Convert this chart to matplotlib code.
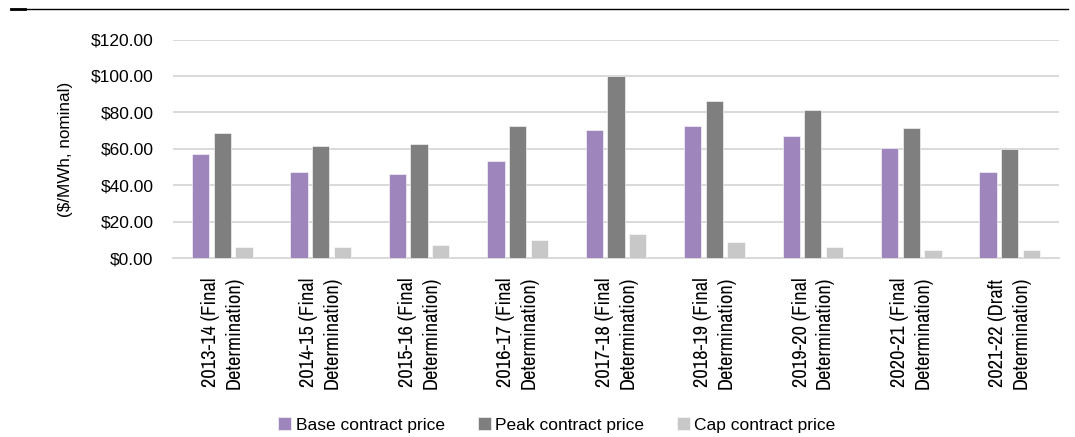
import matplotlib.pyplot as plt
import numpy as np
from matplotlib.lines import Line2D
from matplotlib.ticker import FuncFormatter

plt.rcParams['font.family'] = ['Liberation Sans', 'DejaVu Sans']
NARROW = ['Nimbus Sans Narrow', 'Archivo Narrow', 'Liberation Sans']

YEARS = ['2013-14 (Final\nDetermination)', '2014-15 (Final\nDetermination)',
         '2015-16 (Final\nDetermination)', '2016-17 (Final\nDetermination)',
         '2017-18 (Final\nDetermination)', '2018-19 (Final\nDetermination)',
         '2019-20 (Final\nDetermination)', '2020-21 (Final\nDetermination)',
         '2021-22 (Draft\nDetermination)']

# $/MWh, nominal
BASE = [57.2, 47.1, 46.0, 53.4, 70.1, 72.8, 67.3, 60.5, 47.4]
PEAK = [68.9, 61.4, 62.9, 72.3, 100.2, 86.2, 81.4, 71.2, 60.0]
CAP = [6.1, 6.0, 7.1, 9.9, 13.2, 8.8, 6.0, 4.8, 4.4]

SERIES = [
    ('Base contract price', BASE, '#9e86bc'),
    ('Peak contract price', PEAK, '#7f7f7f'),
    ('Cap contract price', CAP, '#c8c8c8'),
]

fig = plt.figure(figsize=(10.75, 4.37), dpi=100, facecolor='white')
ax = fig.add_axes([0.161, 0.409, 0.824, 0.5006])

x = np.arange(len(YEARS))
pitch = 0.22
width = 0.176
for i, (label, vals, color) in enumerate(SERIES):
    ax.bar(x + (i - 1) * pitch, vals, width=width, color=color,
           edgecolor='white', linewidth=0.4, label=label, zorder=3)

ax.set_xlim(-0.5, len(YEARS) - 0.5)
ax.set_ylim(0, 120)
ax.set_yticks(np.arange(0, 121, 20))
ax.yaxis.set_major_formatter(FuncFormatter(lambda v, _: f'${v:.2f}'))
ax.grid(axis='y', color='#d9d9d9', linewidth=1.4, zorder=0)
ax.set_axisbelow(True)

for side in ('top', 'right', 'left'):
    ax.spines[side].set_visible(False)
ax.spines['bottom'].set_color('#d9d9d9')
ax.spines['bottom'].set_linewidth(1.4)

# category labels are set in a narrow face
ax.set_xticks(x)
ax.set_xticklabels(YEARS, rotation=90, fontsize=14.75, linespacing=1.3,
                   family=NARROW)
ax.tick_params(axis='x', length=0, pad=13)
ax.tick_params(axis='y', length=0, pad=14, labelsize=12.5)

ax.set_ylabel('($/MWh, nominal)', fontsize=12.3)
ax.yaxis.set_label_coords(-0.113, 0.5)

fig.legend(loc='center', bbox_to_anchor=(0.518, 0.027), ncol=3,
           frameon=False, fontsize=12.5, handlelength=0.75,
           handleheight=0.75, handletextpad=0.25, columnspacing=1.9)

# rule across the top of the page
fig.add_artist(Line2D([11 / 1075, 1068 / 1075], [1 - 9.3 / 437] * 2,
                      color='black', linewidth=1.0))
fig.add_artist(Line2D([11 / 1075, 25 / 1075], [1 - 9.3 / 437] * 2,
                      color='black', linewidth=2.0))

fig.savefig('out.png', dpi=100, facecolor='white')
